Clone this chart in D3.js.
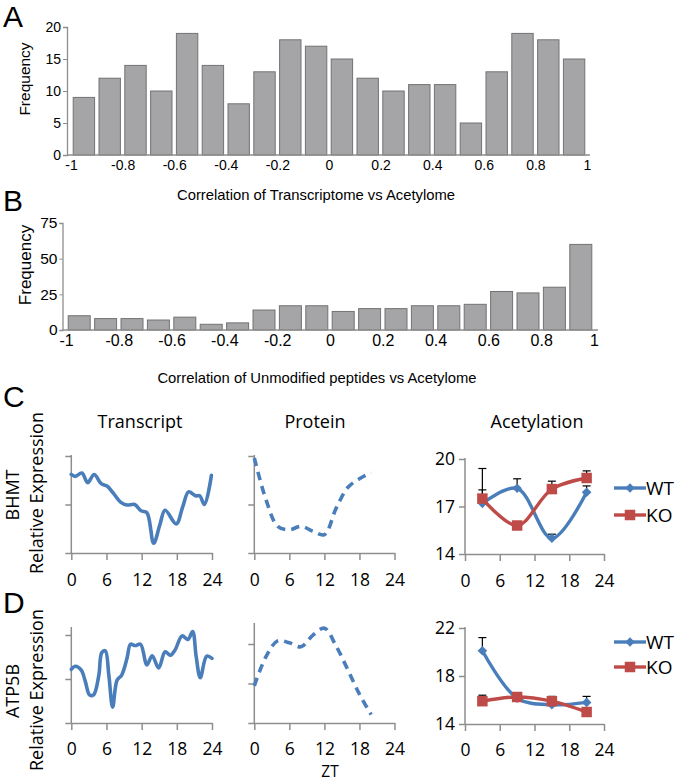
<!DOCTYPE html>
<html><head><meta charset="utf-8">
<script src="https://cdn.jsdelivr.net/npm/d3@7"></script>
<style>body{margin:0;background:#fff}svg{display:block}</style>
</head><body>
<svg id="chart" width="680" height="782"></svg>
<script>
// ---------- DATA ----------
const binStarts = [-1,-0.9,-0.8,-0.7,-0.6,-0.5,-0.4,-0.3,-0.2,-0.1,0,0.1,0.2,0.3,0.4,0.5,0.6,0.7,0.8,0.9];
const freqA = [9,12,14,10,19,14,8,13,18,17,15,12,10,11,11,5,13,19,18,15];
const freqB = [10,8,8,7,9,4,5,14,17,17,13,15,15,17,17,18,27,26,30,60];
const corrTickValues = [-1,-0.8,-0.6,-0.4,-0.2,0,0.2,0.4,0.6,0.8,1];
const corrTickLabels = ["-1","-0.8","-0.6","-0.4","-0.2","0","0.2","0.4","0.6","0.8","1"];
const freqATicks = [0,5,10,15,20];
const freqBTicks = [0,25,50,75];
const titleA = "Correlation of Transcriptome vs Acetylome";
const titleB = "Correlation of Unmodified peptides vs Acetylome";

const ztTicks = [0,6,12,18,24];
const columnTitles = ["Transcript","Protein","Acetylation"];

const bhmtTranscriptZT = [0,0.7,1.8,2.8,3.9,5.1,6.1,7.2,8.4,9.5,10.8,11.9,12.9,14.05,15.1,16.0,17.9,19.0,20.0,21.2,21.9,22.7,23.9];
const bhmtTranscript   = [1.62,1.58,1.65,1.45,1.62,1.43,1.38,1.23,1.05,0.99,1.0,0.87,0.83,0.2,0.58,0.88,0.60,0.95,1.26,1.18,1.18,1.0,1.6];
const proteinZT = [0,2,4,6,8,10,12,14,16,18,20];
const bhmtProtein = [1.96,1.1,0.55,0.48,0.55,0.45,0.38,0.92,1.35,1.53,1.66];
const atp5bTranscriptZT = [0,0.7,1.7,2.4,3.1,3.8,4.7,5.2,5.8,6.4,7.05,7.8,8.6,9.5,10.1,10.9,11.8,12.9,13.8,14.9,16.0,16.9,17.7,18.9,19.9,20.7,21.3,22.0,23.1,24];
const atp5bTranscript   = [1.22,1.29,1.20,0.94,0.64,0.64,1.09,1.60,1.64,1.09,0.36,0.97,1.09,1.47,1.79,1.76,1.79,1.32,1.53,1.25,1.62,1.54,1.66,1.98,1.90,2.08,1.51,1.03,1.52,1.47];
const atp5bProtein = [0.94,1.68,2.08,2.03,1.93,2.22,2.40,1.95,1.35,0.73,0.21];

const acetZT = [3,9,15,21];
const bhmtWT = [17.2,18.15,15.0,17.9];
const bhmtWTerr = [0.85,0.6,0.25,0.4];
const bhmtKO = [17.5,15.8,18.1,18.8];
const bhmtKOerr = [1.9,0.1,0.5,0.45];
const atp5bWT = [20.1,16.15,15.6,15.8];
const atp5bWTerr = [1.1,0.2,0.2,0.5];
const atp5bKO = [15.9,16.25,15.9,15.0];
const atp5bKOerr = [0.5,0.2,0.4,0.2];
const seriesNames = ["WT","KO"];

// ---------- STYLE ----------
const BLUE = "#4a7ebb", RED = "#be4b48", AXIS = "#8e8e8e";
const BAR_FILL = "#a5a5a8", BAR_STROKE = "#737373";
const ARIAL = "'Liberation Sans', Arial, sans-serif";
const CAL = "'Open Sans', 'Noto Sans', sans-serif";

const svg = d3.select("#chart");

// panel letters
[["A",27],["B",211],["C",407],["D",613]].forEach(([t,y]) => {
  svg.append("text").attr("x",3).attr("y",y).text(t)
    .attr("font-family",ARIAL).attr("font-size",30).attr("fill","#000");
});

// ---------- HISTOGRAMS ----------
function histogram(o){
  const g = svg.append("g");
  const x = d3.scaleLinear().domain([-1,1]).range(o.xr);
  const y = d3.scaleLinear().domain([0,o.ymax]).range([o.yb,o.yt]);
  g.selectAll("rect").data(o.values).enter().append("rect")
    .attr("x",(d,i)=>x(binStarts[i])+o.inset)
    .attr("width",(d,i)=>x(binStarts[i]+0.1)-x(binStarts[i])-2*o.inset)
    .attr("y",d=>y(d)).attr("height",d=>y(0)-y(d))
    .attr("fill",BAR_FILL).attr("stroke",BAR_STROKE).attr("stroke-width",1);
  const xa = g.append("g").attr("transform",`translate(0,${o.yb})`)
    .call(d3.axisBottom(x).tickValues(corrTickValues).tickSize(0).tickPadding(o.xpad)
      .tickFormat((d,i)=>corrTickLabels[i]));
  xa.select(".domain").remove();
  xa.selectAll("text").attr("font-family",ARIAL).attr("font-size",o.fs).attr("fill","#000");
  g.append("line").attr("x1",o.axL).attr("x2",o.axR).attr("y1",o.yb).attr("y2",o.yb)
    .attr("stroke",AXIS).attr("stroke-width",1.5);
  const ya = g.append("g").attr("transform",`translate(${o.axL},0)`)
    .call(d3.axisLeft(y).tickValues(o.yticks).tickSize(o.ytick).tickPadding(2).tickFormat(d3.format("d")));
  ya.select(".domain").attr("stroke",AXIS).attr("stroke-width",1.3);
  ya.selectAll(".tick line").attr("stroke",AXIS);
  ya.selectAll("text").attr("font-family",ARIAL).attr("font-size",o.yfs).attr("fill","#000");
  g.append("text").attr("transform",`translate(${o.fx},${o.fy}) rotate(-90)`)
    .attr("text-anchor","middle").text("Frequency")
    .attr("font-family",ARIAL).attr("font-size",o.ffs).attr("fill","#000");
  g.append("text").attr("x",o.tx).attr("y",o.ty).attr("text-anchor","middle").text(o.title)
    .attr("font-family",ARIAL).attr("font-size",o.tfs).attr("fill","#000");
}
histogram({values:freqA, xr:[71,587], inset:2.2, ymax:20, yb:155, yt:27, axL:67, axR:590,
  yticks:freqATicks, ytick:4, xpad:5, fs:14, yfs:14, fx:30, fy:79, ffs:15.5,
  title:titleA, tx:316, ty:200, tfs:14.8});
histogram({values:freqB, xr:[66,594], inset:2.2, ymax:75, yb:330, yt:223, axL:62.5, axR:598,
  yticks:freqBTicks, ytick:3, xpad:5, fs:16, yfs:15.5, fx:31, fy:265, ffs:17,
  title:titleB, tx:317, ty:383, tfs:14.8});

// ---------- LINE PANELS ----------
function linePanel(o){
  const g = svg.append("g");
  const x = d3.scaleLinear().domain([0,24]).range([o.x0,o.x1]);
  const y = d3.scaleLinear().domain(o.ydom).range([o.yb,o.yt]);
  const xa = g.append("g").attr("transform",`translate(0,${o.yb})`)
    .call(d3.axisBottom(x).tickValues(ztTicks).tickSize(7).tickSizeOuter(0).tickPadding(o.xpad));
  xa.select(".domain").attr("stroke",AXIS).attr("stroke-width",1.5);
  xa.selectAll(".tick line").attr("stroke",AXIS).attr("stroke-width",1.5);
  xa.selectAll("text").attr("font-family",CAL).attr("font-size",17.5).attr("fill","#000");
  const ya = g.append("g").attr("transform",`translate(${o.x0},0)`)
    .call(d3.axisLeft(y).tickValues(o.yticks).tickSize(6).tickSizeOuter(0).tickPadding(4)
      .tickFormat(o.ylabels ? d3.format("d") : ""));
  ya.select(".domain").remove();
  g.append("line").attr("x1",o.x0).attr("x2",o.x0).attr("y1",o.yb).attr("y2",o.axTop)
    .attr("stroke",AXIS).attr("stroke-width",1.5);
  ya.selectAll(".tick line").attr("stroke",AXIS).attr("stroke-width",1.5);
  ya.selectAll("text").attr("font-family",CAL).attr("font-size",17.5).attr("fill","#000");
  return {g,x,y};
}
function smoothLine(p, xs, ys, dashed){
  const line = d3.line().x((d,i)=>p.x(xs[i])).y(d=>p.y(d)).curve(d3.curveCatmullRom.alpha(0.5));
  p.g.append("path").attr("d",line(ys)).attr("fill","none").attr("stroke",BLUE)
    .attr("stroke-width",3.6).attr("stroke-linecap",dashed?"butt":"round").attr("stroke-linejoin","round")
    .attr("stroke-dasharray",dashed?"8.5,6":null);
}
function acetSeries(p, vals, errs, color, marker){
  const line = d3.line().x((d,i)=>p.x(acetZT[i])).y(d=>p.y(d)).curve(d3.curveCatmullRom.alpha(0.5));
  vals.forEach((v,i)=>{
    const cx = p.x(acetZT[i]);
    p.g.append("line").attr("x1",cx).attr("x2",cx).attr("y1",p.y(v)).attr("y2",p.y(v+errs[i]))
      .attr("stroke","#000").attr("stroke-width",1.2);
    p.g.append("line").attr("x1",cx-4).attr("x2",cx+4).attr("y1",p.y(v+errs[i])).attr("y2",p.y(v+errs[i]))
      .attr("stroke","#000").attr("stroke-width",1.2);
  });
  p.g.append("path").attr("d",line(vals)).attr("fill","none").attr("stroke",color).attr("stroke-width",3.4);
  vals.forEach((v,i)=>{
    drawMarker(p.g, p.x(acetZT[i]), p.y(v), color, marker);
  });
}
function drawMarker(g, cx, cy, color, marker){
  if(marker==="diamond"){
    g.append("path").attr("d",d3.symbol(d3.symbolSquare, 46)())
      .attr("transform",`translate(${cx},${cy}) rotate(45)`).attr("fill",color);
  } else {
    g.append("path").attr("d",d3.symbol(d3.symbolSquare, 110)())
      .attr("transform",`translate(${cx},${cy})`).attr("fill",color);
  }
}
function legend(yWT, yKO){
  [[yWT,BLUE,"diamond",seriesNames[0]],[yKO,RED,"square",seriesNames[1]]].forEach(([yy,c,m,t])=>{
    svg.append("line").attr("x1",614).attr("x2",646).attr("y1",yy).attr("y2",yy)
      .attr("stroke",c).attr("stroke-width",3.4);
    drawMarker(svg,630,yy,c,m);
    svg.append("text").attr("x",646).attr("y",yy).attr("dy","0.36em").text(t)
      .attr("font-family",CAL).attr("font-size",19).attr("fill","#000");
  });
}

[[140,columnTitles[0]],[315,columnTitles[1]],[537,columnTitles[2]]].forEach(([cx,t])=>{
  svg.append("text").attr("x",cx).attr("y",428).attr("text-anchor","middle").text(t)
    .attr("font-family",CAL).attr("font-size",18).attr("fill","#000");
});

// C row
const cT = linePanel({x0:71.3,x1:212,yb:553,yt:456,ydom:[0,2],yticks:[0,1,2],axTop:455,ylabels:false,xpad:14});
smoothLine(cT, bhmtTranscriptZT, bhmtTranscript, false);
const cP = linePanel({x0:254.3,x1:394.5,yb:553,yt:456,ydom:[0,2],yticks:[0,1,2],axTop:455,ylabels:false,xpad:14});
smoothLine(cP, proteinZT, bhmtProtein, true);
const cA = linePanel({x0:465,x1:604,yb:554,yt:459,ydom:[14,20],yticks:[14,17,20],axTop:458,ylabels:true,xpad:14});
acetSeries(cA, bhmtWT, bhmtWTerr, BLUE, "diamond");
acetSeries(cA, bhmtKO, bhmtKOerr, RED, "square");
legend(488,515);

// D row
const dT = linePanel({x0:71.3,x1:212,yb:723,yt:635,ydom:[0,2],yticks:[0,1,2],axTop:627,ylabels:false,xpad:13});
smoothLine(dT, atp5bTranscriptZT, atp5bTranscript, false);
const dP = linePanel({x0:254.3,x1:394.5,yb:723,yt:644,ydom:[0,2],yticks:[0,1,2],axTop:623,ylabels:false,xpad:13});
smoothLine(dP, proteinZT, atp5bProtein, true);
const dA = linePanel({x0:465,x1:604,yb:724,yt:628,ydom:[14,22],yticks:[14,18,22],axTop:627,ylabels:true,xpad:13});
acetSeries(dA, atp5bWT, atp5bWTerr, BLUE, "diamond");
acetSeries(dA, atp5bKO, atp5bKOerr, RED, "square");
legend(642,667);

[["BHMT",495,19],["Relative Expression",493,43],["ATP5B",691,19],["Relative Expression",690,43]].forEach(([t,cy,bx])=>{
  svg.append("text").attr("transform",`translate(${bx},${cy}) rotate(-90)`).attr("text-anchor","middle")
    .text(t).attr("font-family",CAL).attr("font-size",18).attr("fill","#000");
});
svg.append("text").attr("x",330).attr("y",777).attr("text-anchor","middle").text("ZT")
  .attr("font-family",CAL).attr("font-size",15.5).attr("fill","#000");
</script>
</body></html>
